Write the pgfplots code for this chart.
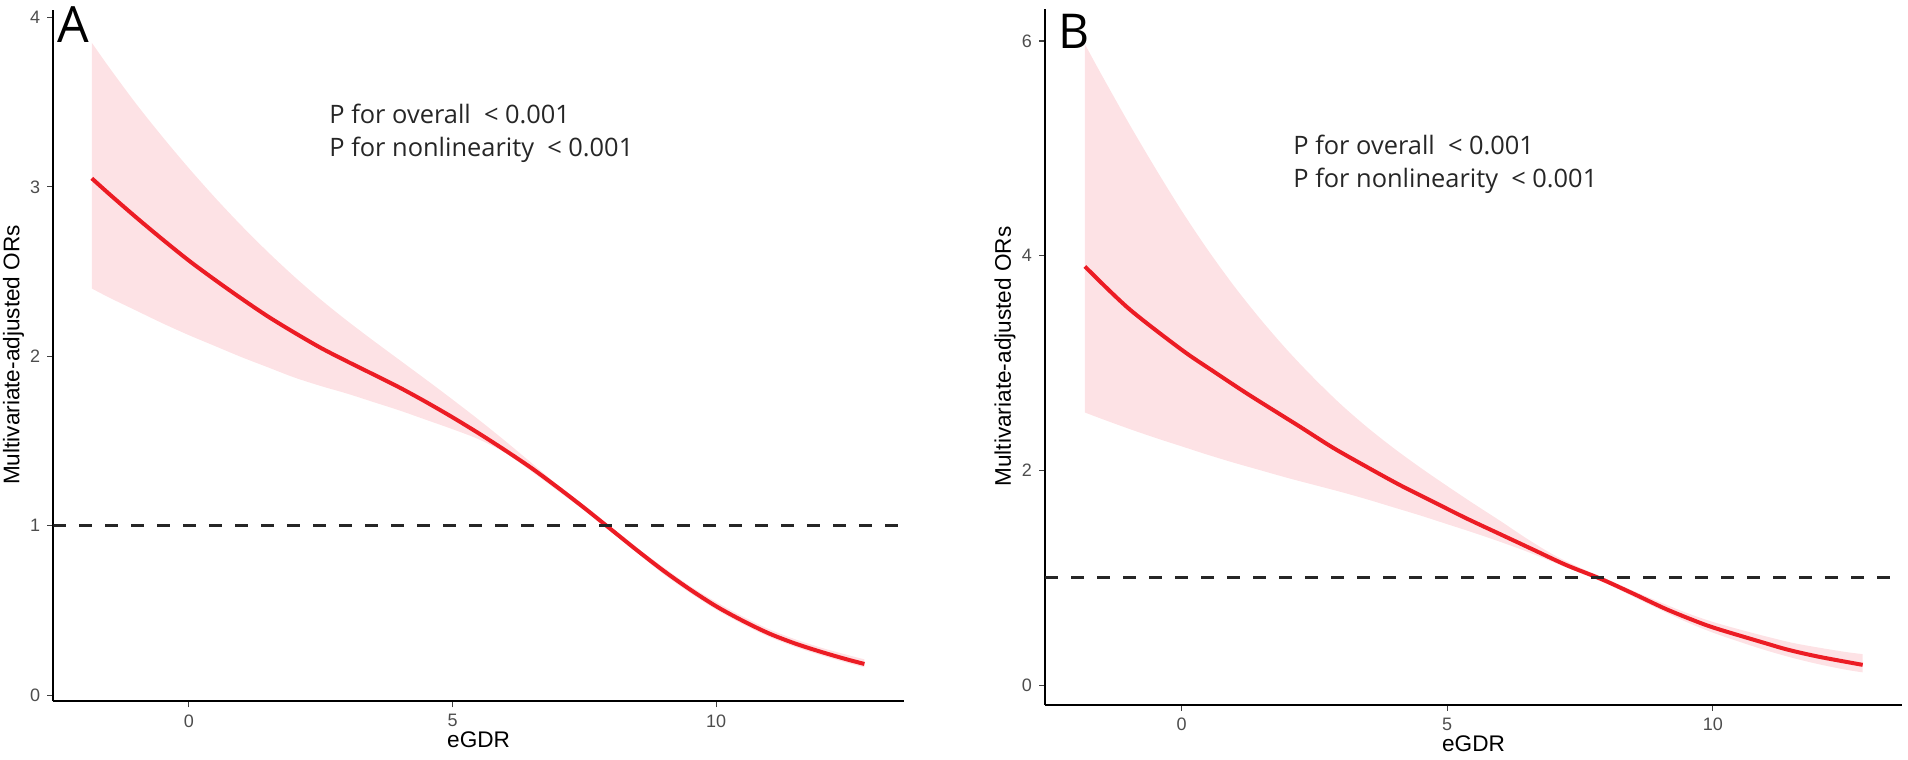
\documentclass[border=0pt]{standalone}
\usepackage{fontspec}
\setmainfont{Liberation Sans}
\newfontfamily\annfont{Open Sans}
\usepackage{pgfplots}
\usepackage{pgfplotstable}
\pgfplotsset{compat=1.18}
\usepgfplotslibrary{fillbetween}
\definecolor{ribbon}{RGB}{253,226,229}
\definecolor{curvered}{RGB}{236,28,36}
\definecolor{tickgray}{RGB}{77,77,77}

% Panel A: confidence band
\pgfplotstableread{
x      lo     hi
-1.84  2.40   3.85
-1.5   2.345  3.70
-1.0   2.27   3.49
-0.5   2.195  3.295
0.0    2.125  3.11
0.5    2.06   2.935
1.0    1.995  2.77
1.5    1.935  2.615
2.0    1.875  2.47
2.5    1.825  2.335
3.0    1.78   2.21
3.5    1.73   2.092
4.0    1.68   1.977
4.5    1.625  1.862
5.0    1.57   1.745
5.5    1.51   1.625
6.0    1.43   1.50
6.5    1.32   1.37
7.0    1.205  1.24
7.5    1.09   1.12
8.0    0.97   0.995
8.5    0.84   0.87
9.0    0.715  0.755
9.5    0.605  0.645
10.0   0.505  0.55
10.5   0.42   0.465
11.0   0.345  0.39
11.5   0.285  0.33
12.0   0.235  0.28
12.5   0.19   0.237
12.81  0.165  0.212
}\bandA

% Panel A: estimated OR
\pgfplotstableread{
x      y
-1.84  3.05
-1.5   2.955
-1.0   2.82
-0.5   2.69
0.0    2.565
0.5    2.45
1.0    2.34
1.5    2.235
2.0    2.14
2.5    2.05
3.0    1.97
3.5    1.893
4.0    1.815
4.5    1.73
5.0    1.64
5.5    1.545
6.0    1.445
6.5    1.34
7.0    1.225
7.5    1.105
8.0    0.98
8.5    0.855
9.0    0.735
9.5    0.625
10.0   0.525
10.5   0.44
11.0   0.365
11.5   0.305
12.0   0.255
12.5   0.21
12.81  0.185
}\curveA

% Panel B: confidence band
\pgfplotstableread{
x      lo     hi
-1.82  2.54   5.97
-1.5   2.48   5.68
-1.0   2.39   5.24
-0.5   2.305  4.82
0.0    2.225  4.42
0.5    2.145  4.05
1.0    2.07   3.71
1.5    2.00   3.40
2.0    1.93   3.115
2.5    1.865  2.855
3.0    1.80   2.615
3.5    1.73   2.40
4.0    1.655  2.205
4.5    1.58   2.025
5.0    1.50   1.855
5.5    1.42   1.69
6.0    1.335  1.53
6.5    1.245  1.365
7.0    1.145  1.215
7.5    1.045  1.095
8.0    0.945  0.99
8.5    0.825  0.88
9.0    0.705  0.775
9.5    0.59   0.675
10.0   0.49   0.59
10.5   0.405  0.52
11.0   0.325  0.455
11.5   0.255  0.395
12.0   0.195  0.35
12.5   0.145  0.31
12.82  0.12   0.29
}\bandB

% Panel B: estimated OR
\pgfplotstableread{
x      y
-1.82  3.90
-1.0   3.51
0.0    3.125
0.594  2.925
1.22   2.72
1.848  2.525
2.224  2.409
2.85   2.212
3.477  2.036
4.103  1.866
4.73   1.71
5.357  1.555
5.983  1.41
6.61   1.265
7.237  1.12
7.895  0.99
8.49   0.856
9.117  0.71
9.74   0.585
10.12  0.52
11.0   0.39
11.42  0.33
12.0   0.265
12.82  0.19
}\curveB

\pgfplotsset{
  rcsaxis/.style={
    scale only axis,
    anchor=south west,
    xmin=-2.57, xmax=13.56,
    axis x line*=bottom,
    axis y line*=left,
    axis line style={-, line width=1pt, black},
    xtick={0,5,10},
    tick align=outside,
    major tick length=3pt,
    tick style={line width=0.6pt, black!75},
    ticklabel style={font=\fontsize{9}{10}\selectfont, text=tickgray},
    /pgf/number format/assume math mode=true,
    clip=true,
  },
}

\begin{document}
\begin{tikzpicture}

% ---------------- Panel A ----------------
\begin{axis}[rcsaxis,
  at={(26.65pt,29.3pt)},
  width=425.35pt, height=345.85pt,
  ymin=-0.036, ymax=4.045,
  ytick={0,1,2,3,4},
]
\addplot[draw=none, name path=upA, smooth] table[x=x,y=hi] {\bandA};
\addplot[draw=none, name path=loA, smooth] table[x=x,y=lo] {\bandA};
\addplot[fill=ribbon, draw=none] fill between[of=upA and loA];
\addplot[curvered, line width=2pt, smooth] table[x=x,y=y] {\curveA};
\addplot[black!85, line width=1.5pt, dash pattern=on 6.5pt off 6.5pt] coordinates {(-2.57,1) (13.56,1)};
\end{axis}

% ---------------- Panel B ----------------
\begin{axis}[rcsaxis,
  at={(522.5pt,27.7pt)},
  width=428.5pt, height=347.95pt,
  ymin=-0.18, ymax=6.30,
  ytick={0,2,4,6},
]
\addplot[draw=none, name path=upB, smooth] table[x=x,y=hi] {\bandB};
\addplot[draw=none, name path=loB, smooth] table[x=x,y=lo] {\bandB};
\addplot[fill=ribbon, draw=none] fill between[of=upB and loB];
\addplot[curvered, line width=2pt, smooth] table[x=x,y=y] {\curveB};
\addplot[black!85, line width=1.5pt, dash pattern=on 6.5pt off 6.5pt] coordinates {(-2.57,1) (13.56,1)};
\end{axis}

% axis titles
\node[rotate=90, font=\fontsize{11.3}{13}\selectfont] at (6.8pt,202.5pt) {Multivariate-adjusted ORs};
\node[rotate=90, font=\fontsize{11.3}{13}\selectfont] at (502.5pt,201.7pt) {Multivariate-adjusted ORs};
\node[anchor=base, inner sep=0pt, font=\fontsize{11.3}{13}\selectfont] at (239.3pt,6pt) {eGDR};
\node[anchor=base, inner sep=0pt, font=\fontsize{11.3}{13}\selectfont] at (736.75pt,4pt) {eGDR};

% panel letters
\node[anchor=base west, inner sep=0pt, font=\annfont\fontsize{25}{28}\selectfont] at (28.5pt,358.5pt) {A};
\node[anchor=base west, inner sep=0pt, font=\annfont\fontsize{24}{28}\selectfont] at (529pt,355.8pt) {B};

% annotations
\node[anchor=base west, inner sep=0pt, text=black!85, font=\annfont\fontsize{12.7}{15}\selectfont] at (164.5pt,318pt) {P for overall\ \ < 0.001};
\node[anchor=base west, inner sep=0pt, text=black!85, font=\annfont\fontsize{12.7}{15}\selectfont] at (164.5pt,301.5pt) {P for nonlinearity\ \ < 0.001};
\node[anchor=base west, inner sep=0pt, text=black!85, font=\annfont\fontsize{12.7}{15}\selectfont] at (646.5pt,302.5pt) {P for overall\ \ < 0.001};
\node[anchor=base west, inner sep=0pt, text=black!85, font=\annfont\fontsize{12.7}{15}\selectfont] at (646.5pt,286pt) {P for nonlinearity\ \ < 0.001};

\pgfresetboundingbox
\path[use as bounding box] (0,0) rectangle (954pt,380pt);
\end{tikzpicture}
\end{document}
